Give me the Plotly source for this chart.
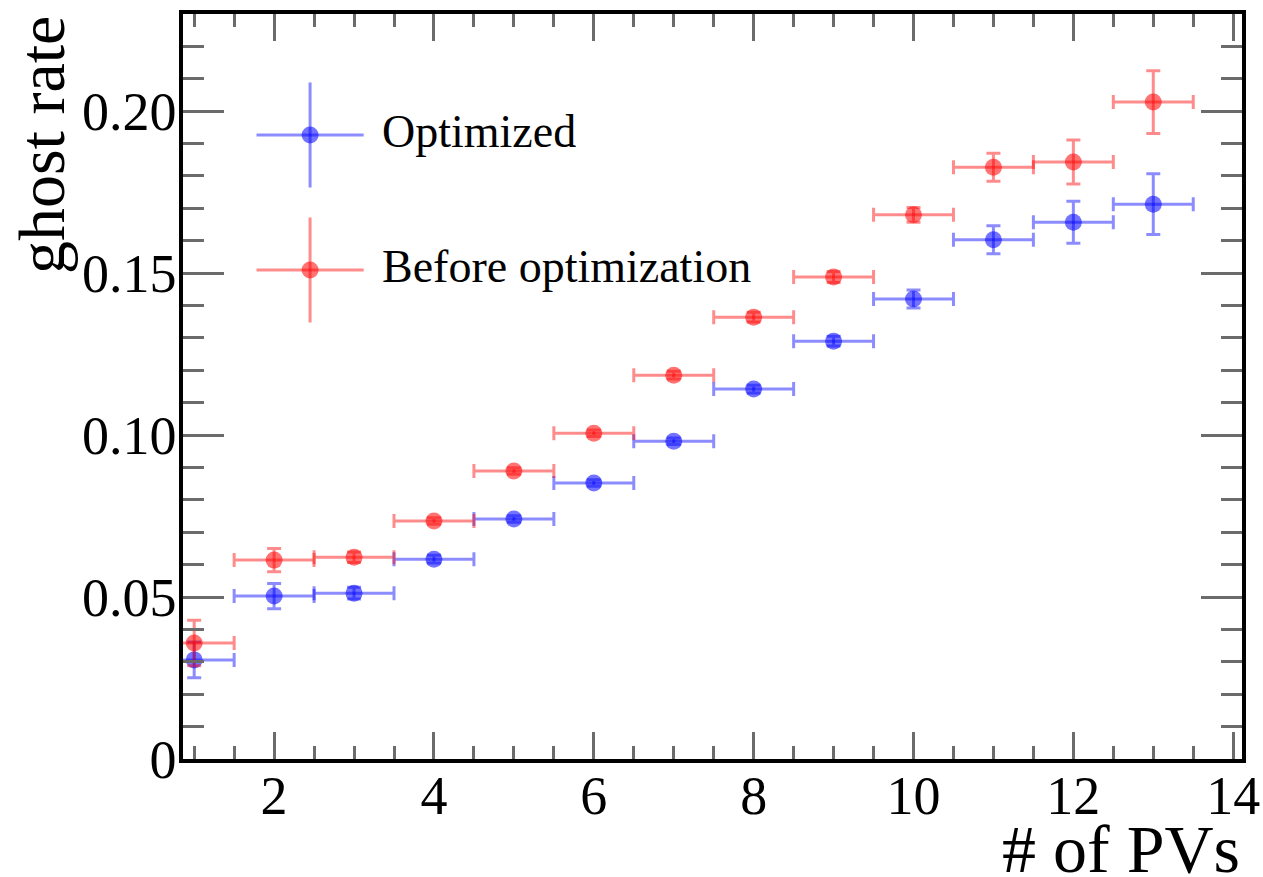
import plotly.graph_objects as go

# Ghost rate versus number of primary vertices
n_pv = [1, 2, 3, 4, 5, 6, 7, 8, 9, 10, 11, 12, 13]
bin_half_width = [0.5] * 13

optimized = [0.0306, 0.0503, 0.0512, 0.0617, 0.0741, 0.0852, 0.0981,
             0.1142, 0.1290, 0.1420, 0.1603, 0.1657, 0.1713]
optimized_err = [0.0055, 0.0039, 0.0018, 0.0012, 0.0010, 0.0010, 0.0010,
                 0.0012, 0.0015, 0.0028, 0.0043, 0.0065, 0.0094]

before = [0.0358, 0.0614, 0.0623, 0.0735, 0.0889, 0.1006, 0.1185,
          0.1364, 0.1488, 0.1680, 0.1827, 0.1843, 0.2028]
before_err = [0.0070, 0.0036, 0.0016, 0.0010, 0.0010, 0.0010, 0.0012,
              0.0015, 0.0017, 0.0023, 0.0043, 0.0068, 0.0097]

y_tickvals = [0, 0.05, 0.10, 0.15, 0.20]
y_ticktext = ["0", "0.05", "0.10", "0.15", "0.20"]
x_tickvals = [2, 4, 6, 8, 10, 12, 14]

series_names = ["Optimized", "Before optimization"]
line_colors = ["rgba(0,0,255,0.45)", "rgba(255,0,0,0.45)"]
marker_colors = ["rgba(0,0,255,0.55)", "rgba(255,0,0,0.55)"]

FONT = "Liberation Serif"
TICK_GRAY = "#6b6b6b"

fig = go.Figure()

for name, yv, ye, lc, mc in zip(series_names, [optimized, before],
                                [optimized_err, before_err],
                                line_colors, marker_colors):
    fig.add_trace(go.Scatter(
        x=n_pv, y=yv, name=name, mode="markers",
        marker=dict(symbol="circle", size=17, color=mc, line=dict(width=0)),
        error_y=dict(type="data", array=ye, color=lc, thickness=3, width=7),
        error_x=dict(type="data", array=bin_half_width, color=lc,
                     thickness=3, width=7),
        showlegend=False,
    ))

# Legend keys drawn on an overlay axis in unit coordinates
legend_x = 0.120
legend_y = [0.8376, 0.6564]
for name, ly, lc, mc in zip(series_names, legend_y, line_colors, marker_colors):
    fig.add_trace(go.Scatter(
        x=[legend_x], y=[ly], mode="markers", xaxis="x2", yaxis="y2",
        marker=dict(symbol="circle", size=17, color=mc, line=dict(width=0)),
        error_x=dict(type="constant", value=0.0506, color=lc, thickness=3, width=0),
        error_y=dict(type="constant", value=0.0705, color=lc, thickness=3, width=0),
        showlegend=False, hoverinfo="skip",
    ))
    fig.add_annotation(
        x=0.186, y=ly + 0.005, xref="paper", yref="paper",
        text=name, showarrow=False, xanchor="left", yanchor="middle",
        font=dict(family=FONT, size=46, color="black"),
    )

axis_common = dict(
    showline=True, linecolor="black", linewidth=3.5, mirror="ticks",
    ticks="inside", tickcolor=TICK_GRAY, tickwidth=3,
    showgrid=False, zeroline=False, automargin=False,
    tickfont=dict(family=FONT, size=54, color="black"),
)

fig.update_layout(
    width=1263, height=877,
    margin=dict(l=183, r=21, t=14, b=118),
    plot_bgcolor="white", paper_bgcolor="white",
    xaxis=dict(
        range=[0.86, 14.11], tickvals=x_tickvals, ticklen=27,
        minor=dict(dtick=0.5, tick0=0, ticklen=13, tickcolor=TICK_GRAY,
                   tickwidth=3, ticks="inside"),
        ticklabelstandoff=-14,
        **axis_common,
    ),
    yaxis=dict(
        range=[0, 0.23], tickvals=y_tickvals, ticktext=y_ticktext, ticklen=41,
        minor=dict(dtick=0.01, tick0=0, ticklen=21, tickcolor=TICK_GRAY,
                   tickwidth=3, ticks="inside"),
        ticklabelstandoff=-8,
        **axis_common,
    ),
    xaxis2=dict(overlaying="x", range=[0, 1], visible=False, fixedrange=True),
    yaxis2=dict(overlaying="y", range=[0, 1], visible=False, fixedrange=True),
)

fig.add_annotation(
    x=1.0, y=-0.121, xref="paper", yref="paper", text="# of PVs",
    showarrow=False, xanchor="right", yanchor="middle",
    font=dict(family=FONT, size=68, color="black"),
)
fig.add_annotation(
    x=-0.134, y=1.0, xref="paper", yref="paper", text="ghost rate",
    showarrow=False, xanchor="center", yanchor="top", textangle=-90,
    font=dict(family=FONT, size=66, color="black"),
)

fig.write_html("out.html")
